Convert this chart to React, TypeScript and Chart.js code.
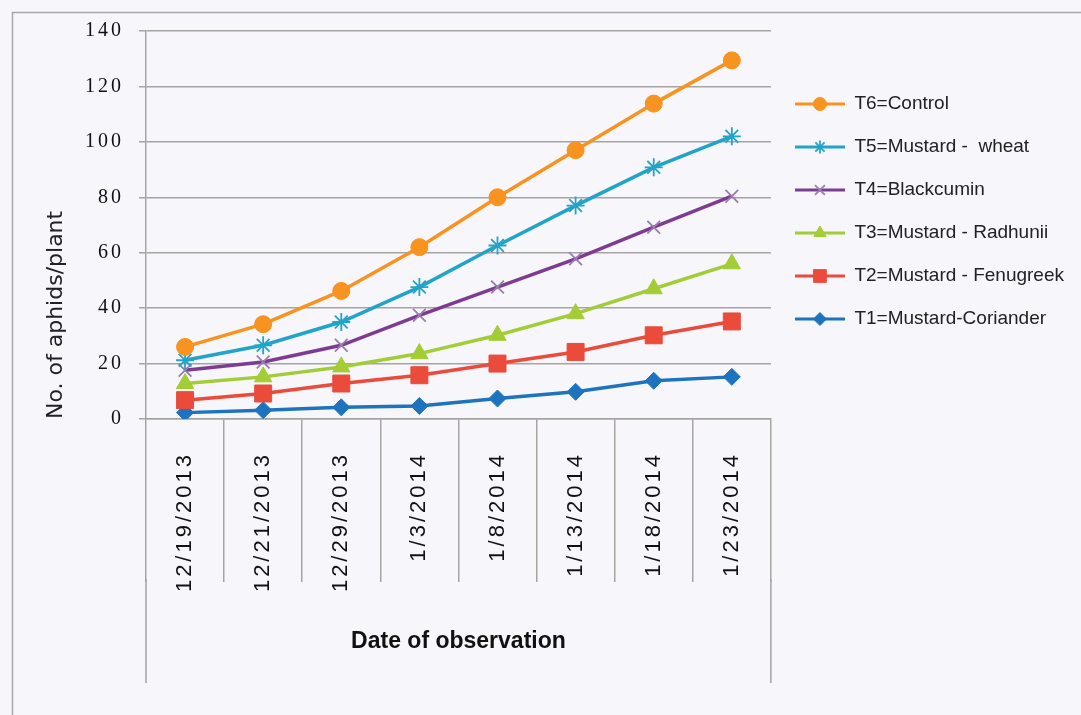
import React, { useEffect, useRef } from 'react';
import { Chart, registerables } from 'chart.js';
import { drawPoint } from 'chart.js/helpers';

Chart.register(...registerables);

// ---------- data ----------
const dates = ['12/19/2013', '12/21/2013', '12/29/2013', '1/3/2014', '1/8/2014', '1/13/2014', '1/18/2014', '1/23/2014'];

const t6Control = [26, 34.2, 46.2, 62, 80, 97, 113.8, 129.4];
const t5MustardWheat = [21.2, 26.6, 35, 47.6, 62.6, 77, 90.8, 102];
const t4Blackcumin = [17.6, 20.6, 26.6, 37.4, 47.6, 57.8, 69.2, 80.4];
const t3MustardRadhunii = [12.8, 15.2, 18.8, 23.6, 30.2, 38, 47, 56];
const t2MustardFenugreek = [6.8, 9.2, 12.8, 15.8, 20, 24.2, 30.2, 35.2];
const t1MustardCoriander = [2.3, 3.2, 4.2, 4.7, 7.4, 9.8, 13.8, 15.2];

const seriesLabels = [
  'T6=Control',
  'T5=Mustard -  wheat',
  'T4=Blackcumin',
  'T3=Mustard - Radhunii',
  'T2=Mustard - Fenugreek',
  'T1=Mustard-Coriander',
];
const seriesValues = [t6Control, t5MustardWheat, t4Blackcumin, t3MustardRadhunii, t2MustardFenugreek, t1MustardCoriander];

const yMin = 0;
const yMax = 140;
const yStep = 20;
const xTitle = 'Date of observation';
const yTitle = 'No. of aphids/plant';

// ---------- styles ----------
const GRID = '#a8a3a3';
const FRAME = '#a9a9a9';
const seriesStyles = [
  { color: '#F7931E', point: '#F7931E', style: 'circle', radius: 8.5, legendRadius: 6.5, pbw: 1 },
  { color: '#22A4C8', point: '#22A4C8', style: 'star', radius: 9, legendRadius: 6.5, pbw: 1.8 },
  { color: '#7D3C92', point: '#9a7cb1', style: 'crossRot', radius: 9, legendRadius: 7, pbw: 1.8 },
  { color: '#A3CC36', point: '#A3CC36', style: 'triangle', radius: 10, legendRadius: 7, pbw: 1 },
  { color: '#EA4B3A', point: '#EA4B3A', style: 'rect', radius: 12, legendRadius: 9, pbw: 1 },
  { color: '#1E73BE', point: '#1E73BE', style: 'rectRot', radius: 8.5, legendRadius: 6.5, pbw: 1 },
];

function makeLegendGlyph(s: any) {
  const c = document.createElement('canvas');
  c.width = 50;
  c.height = 20;
  const g = c.getContext('2d') as CanvasRenderingContext2D;
  g.strokeStyle = s.color;
  g.lineWidth = 3;
  g.beginPath();
  g.moveTo(0, 10);
  g.lineTo(50, 10);
  g.stroke();
  g.fillStyle = s.point;
  g.strokeStyle = s.point;
  g.lineWidth = s.pbw;
  drawPoint(g, { pointStyle: s.style, radius: s.legendRadius, rotation: 0, borderWidth: s.pbw } as any, 25, 10);
  return c;
}

const framePlugin = {
  id: 'frameLines',
  beforeDraw(chart: any) {
    const ctx = chart.ctx;
    ctx.letterSpacing = '0px';
    ctx.save();
    ctx.strokeStyle = FRAME;
    ctx.lineWidth = 1.5;
    ctx.beginPath();
    ctx.moveTo(12.5, 715);
    ctx.lineTo(12.5, 12.5);
    ctx.lineTo(1081, 12.5);
    ctx.stroke();
    const xs = chart.scales.x;
    const a = chart.chartArea;
    const y0 = xs.top + 160;
    const y1 = xs.top + 264;
    ctx.strokeStyle = GRID;
    ctx.beginPath();
    ctx.moveTo(a.left, y0);
    ctx.lineTo(a.left, y1);
    ctx.moveTo(a.right, y0);
    ctx.lineTo(a.right, y1);
    ctx.stroke();
    ctx.restore();
  },
  afterDatasetsDraw(chart: any) {
    chart.ctx.letterSpacing = '3px';
  },
  afterDraw(chart: any) {
    chart.ctx.letterSpacing = '0px';
  },
};

export default function App() {
  const ref = useRef<HTMLCanvasElement | null>(null);

  useEffect(() => {
    if (!ref.current) return;
    Chart.defaults.font.family = 'Liberation Sans';
    const glyphs = seriesStyles.map(makeLegendGlyph);

    const chart = new Chart(ref.current, {
      type: 'line',
      data: {
        labels: dates,
        datasets: seriesLabels.map((label, i) => ({
          label,
          data: seriesValues[i],
          borderColor: seriesStyles[i].color,
          backgroundColor: seriesStyles[i].color,
          borderWidth: 3.5,
          tension: 0,
          fill: false,
          pointStyle: seriesStyles[i].style as any,
          pointRadius: seriesStyles[i].radius,
          pointBackgroundColor: seriesStyles[i].point,
          pointBorderColor: seriesStyles[i].point,
          pointBorderWidth: seriesStyles[i].pbw,
        })),
      },
      options: {
        animation: false,
        responsive: true,
        maintainAspectRatio: false,
        layout: { padding: { left: 0, right: 7, top: 31, bottom: 0 } },
        plugins: {
          legend: {
            position: 'right',
            align: 'start',
            fullSize: false,
            maxWidth: 420,
            title: { display: true, text: ' ', font: { size: 10 }, padding: { top: 14, bottom: 13.5 } },
            labels: {
              usePointStyle: true,
              pointStyleWidth: 50,
              padding: 24,
              color: '#222',
              font: { family: 'Liberation Sans', size: 19 },
              generateLabels: (c: any) => {
                const items = (Chart.defaults.plugins.legend.labels as any).generateLabels(c);
                return items.map((it: any) => ({ ...it, pointStyle: glyphs[it.datasetIndex] }));
              },
            },
          } as any,
          tooltip: { enabled: false },
        },
        scales: {
          x: {
            type: 'category',
            offset: true,
            grid: { offset: true, drawOnChartArea: false, drawTicks: true, tickLength: 163, color: GRID, lineWidth: 1.5 },
            border: { display: true, color: GRID, width: 1.5 },
            ticks: {
              autoSkip: false,
              minRotation: 90,
              maxRotation: 90,
              padding: -130,
              color: '#111',
              font: { family: 'Liberation Sans', size: 22 },
              z: 1,
            },
            title: {
              display: true,
              text: xTitle,
              color: '#111',
              font: { family: 'Liberation Sans', size: 23, weight: 'bold' },
              padding: { top: 0, bottom: 60 },
            },
            afterFit: (s: any) => {
              s.height = 296;
            },
          } as any,
          y: {
            min: yMin,
            max: yMax,
            ticks: {
              stepSize: yStep,
              padding: 15,
              color: '#111',
              font: { family: 'Liberation Serif', size: 20 },
              z: 1,
            },
            grid: { color: GRID, lineWidth: 1.5, drawTicks: true, tickLength: 7 },
            border: { display: true, color: GRID, width: 1.5 },
            title: {
              display: true,
              text: yTitle,
              align: 'start',
              color: '#222',
              font: { family: 'DejaVu Sans', size: 22 },
              padding: { top: 43, bottom: 0 },
            },
            afterFit: (s: any) => {
              s.width = 146;
            },
          } as any,
        },
      },
      plugins: [framePlugin as any],
    });
    return () => chart.destroy();
  }, []);

  return (
    <div style={{ position: 'absolute', left: 0, top: 0, width: 1081, height: 715, background: '#f6f6fb' }}>
      <canvas ref={ref} />
    </div>
  );
}
